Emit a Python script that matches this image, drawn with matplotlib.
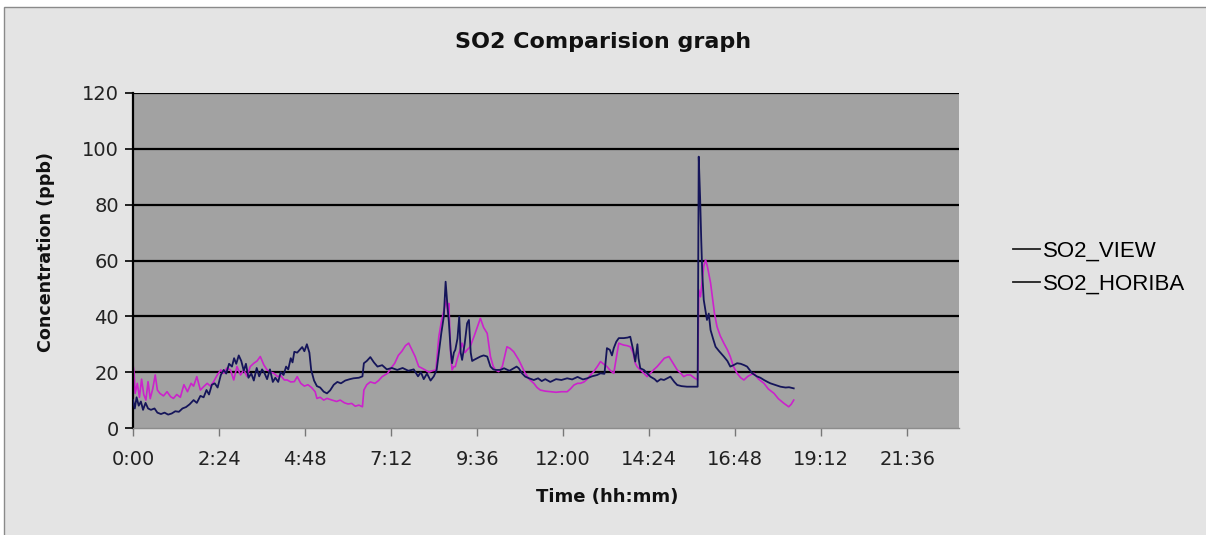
import matplotlib
matplotlib.use('Agg')
import matplotlib.pyplot as plt
from matplotlib.patches import Rectangle
from matplotlib.lines import Line2D

# time in hours, concentration in ppb
view_t = [0.00, 0.05, 0.10, 0.16, 0.22, 0.28, 0.35, 0.42, 0.50, 0.60, 0.68, 0.78, 0.88, 0.98,
          1.08, 1.18, 1.28, 1.38, 1.48, 1.58, 1.69, 1.78, 1.88, 1.97, 2.05, 2.12, 2.20, 2.28,
          2.36, 2.45, 2.53, 2.60, 2.68, 2.76, 2.82, 2.88, 2.95, 3.02, 3.09, 3.15, 3.22, 3.30,
          3.37, 3.45, 3.52, 3.60, 3.67, 3.74, 3.82, 3.90, 3.97, 4.05, 4.12, 4.20, 4.27, 4.33,
          4.40, 4.45, 4.50, 4.58, 4.65, 4.72, 4.78, 4.85, 4.92, 4.97, 5.05, 5.13, 5.22, 5.32,
          5.41, 5.50, 5.60, 5.70, 5.80, 5.92, 6.05, 6.15, 6.30, 6.40, 6.44, 6.52, 6.62, 6.72,
          6.82, 6.95, 7.08, 7.22, 7.37, 7.52, 7.68, 7.83, 7.95, 8.03, 8.11, 8.20, 8.30, 8.39,
          8.47, 8.53, 8.60, 8.67, 8.72, 8.77, 8.81, 8.86, 8.90, 8.95, 8.99, 9.05, 9.10, 9.14,
          9.18, 9.25, 9.32, 9.37, 9.42, 9.46, 9.51, 9.60, 9.69, 9.78, 9.88, 9.97, 10.05, 10.11,
          10.25, 10.35, 10.50, 10.62, 10.70, 10.76, 10.85, 10.94, 11.05, 11.18, 11.30, 11.40,
          11.50, 11.64, 11.80, 11.95, 12.11, 12.25, 12.40, 12.55, 12.67, 12.80, 12.95, 13.04,
          13.15, 13.22, 13.30, 13.36, 13.41, 13.48, 13.55, 13.69, 13.80, 13.87, 13.95, 14.01,
          14.07, 14.10, 14.15, 14.25, 14.34, 14.43, 14.55, 14.62, 14.72, 14.81, 14.90, 14.99,
          15.10, 15.18, 15.30, 15.45, 15.60, 15.75, 15.78, 15.82, 15.85, 15.88, 15.92, 15.97,
          16.01, 16.06, 16.11, 16.18, 16.25, 16.35, 16.48, 16.58, 16.66, 16.75, 16.85, 16.95,
          17.05, 17.13, 17.27, 17.40, 17.50, 17.60, 17.70, 17.78, 17.92, 18.06, 18.20, 18.30,
          18.43]
view_v = [10, 7, 11, 8, 9.5, 6.5, 9, 7, 6.5, 7, 5.5, 5, 5.5, 4.8,
          5.2, 6, 5.8, 7, 7.5, 8.5, 10, 9, 11.5, 11, 13.6, 12, 15.5, 16,
          14.5, 19, 20.8, 19.5, 23, 22, 25, 23, 26, 24, 20.5, 23, 18, 19.5,
          17, 21.5, 18.5, 21, 19.6, 17.5, 21, 16.5, 18, 16.5, 20, 19, 22, 21,
          25, 23.5, 27.3, 27, 28, 29, 27.5, 30, 27, 20.8, 17, 15, 14.5, 13,
          12.4, 13.5, 15.5, 16.5, 16, 17, 17.5, 17.8, 18, 18.5, 23.2, 24, 25.4, 23.5,
          22, 22.5, 21, 21.5, 20.8, 21.5, 20.5, 21, 18.5, 20, 17.5, 19.5, 17, 18.5,
          20.8, 27, 34, 40, 52.4, 44, 38, 28, 23.2, 27, 28, 32, 39.9, 27,
          24.4, 30, 37.5, 38.7, 27, 24, 24.4, 25, 25.6, 26, 25.6, 22, 21, 20.8,
          20.8, 21.4, 20.5, 21.4, 22, 21.4, 19.6, 18.4, 17.8, 17.2, 17.8, 16.8,
          17.5, 16.5, 17.5, 17.2, 17.8, 17.4, 18.3, 17.4, 17.8, 18.5, 19, 19.6,
          19.4, 28.6, 28, 26, 28.6, 30.9, 32.2, 32.2, 32.4, 32.7, 28, 23.8,
          30, 25, 21.4, 20.8, 19.6, 18.4, 17.5, 16.6, 17.5, 17.2, 17.8, 18.4,
          16.5, 15.4, 15, 14.8, 14.8, 14.8, 97.2, 82, 67.4, 55, 45.9, 42,
          38.7, 41, 35.1, 32, 29.1, 27.5, 25.6, 24, 22, 22.5, 23.2, 23,
          22.5, 22, 19.6, 18.5, 18, 17.2, 16.5, 16, 15.4, 14.8, 14.5, 14.6,
          14.2]

horiba_t = [0.00, 0.03, 0.06, 0.12, 0.18, 0.24, 0.30, 0.36, 0.42, 0.48, 0.55, 0.62, 0.68, 0.75,
            0.85, 0.95, 1.05, 1.13, 1.22, 1.32, 1.42, 1.52, 1.62, 1.69, 1.78, 1.88, 1.97, 2.07,
            2.16, 2.25, 2.35, 2.45, 2.53, 2.62, 2.72, 2.81, 2.90, 3.00, 3.09, 3.18, 3.27, 3.37,
            3.46, 3.55, 3.65, 3.74, 3.84, 3.93, 4.03, 4.12, 4.22, 4.30, 4.40, 4.50, 4.58, 4.68,
            4.78, 4.88, 4.98, 5.08, 5.13, 5.22, 5.32, 5.41, 5.55, 5.68, 5.78, 5.90, 6.00, 6.10,
            6.20, 6.30, 6.40, 6.44, 6.52, 6.62, 6.75, 6.85, 6.95, 7.10, 7.20, 7.30, 7.40, 7.50,
            7.60, 7.69, 7.78, 7.87, 7.97, 8.05, 8.15, 8.25, 8.35, 8.45, 8.53, 8.60, 8.67, 8.74,
            8.78, 8.81, 8.86, 8.90, 8.95, 8.99, 9.05, 9.10, 9.18, 9.26, 9.32, 9.40, 9.51, 9.60,
            9.69, 9.78, 9.88, 9.97, 10.05, 10.11, 10.20, 10.30, 10.43, 10.52, 10.62, 10.76, 10.85,
            10.94, 11.05, 11.18, 11.27, 11.36, 11.50, 11.64, 11.80, 11.95, 12.11, 12.20, 12.30,
            12.40, 12.48, 12.58, 12.67, 12.76, 12.85, 12.95, 13.04, 13.12, 13.22, 13.32, 13.41,
            13.48, 13.55, 13.62, 13.69, 13.78, 13.87, 13.95, 14.01, 14.06, 14.15, 14.25, 14.34,
            14.43, 14.52, 14.62, 14.72, 14.82, 14.95, 15.05, 15.18, 15.28, 15.36, 15.45, 15.55,
            15.65, 15.75, 15.78, 15.83, 15.88, 15.92, 15.97, 16.02, 16.06, 16.11, 16.16, 16.22,
            16.29, 16.38, 16.48, 16.58, 16.66, 16.75, 16.85, 16.95, 17.04, 17.15, 17.25, 17.32,
            17.45, 17.60, 17.72, 17.88, 18.00, 18.15, 18.29, 18.36, 18.43]
horiba_v = [22.6, 20, 12.4, 16, 11, 17.5, 12, 10, 16.6, 10.5, 14, 19, 13.6, 12.4,
            11.5, 13, 11.2, 10.6, 12, 11, 15.5, 13, 16, 15, 18.4, 13.6, 14.8, 16,
            15, 16.6, 19, 20.8, 19.6, 21.5, 20.8, 17.2, 22, 19, 20.8, 18.5, 22, 23.2,
            24, 25.6, 22.6, 20.8, 20, 19.6, 18.4, 18.8, 17.2, 17.2, 16.5, 16.6, 18.4, 16,
            15, 15.5, 14.5, 13, 10.6, 11, 10, 10.6, 10, 9.5, 10, 9, 8.6, 8.8,
            7.8, 8.2, 7.6, 13.6, 15.5, 16.5, 16, 17, 18.4, 19.6, 21.5, 23.2, 26, 27.5,
            29.5, 30.4, 28, 25.6, 22, 21.5, 20.8, 20, 20.5, 20.8, 32.7, 38, 42, 46,
            41, 44.6, 27, 20.8, 22, 22, 25, 27, 30.4, 27, 28, 29, 32.7, 36,
            39.3, 36, 33.9, 25.6, 22, 20.8, 20.2, 22, 29.1, 28.5, 27.3, 24.4, 22,
            19.6, 17.5, 16, 14.5, 13.6, 13.2, 13, 12.8, 13, 13, 14, 15.4,
            16, 16, 16.5, 17.5, 19, 20.2, 22, 23.8, 23, 22, 20.5, 19.6,
            25, 30.4, 30, 29.7, 29.5, 29.1, 27, 23.2, 22, 20.8, 19.6, 18.4,
            19.6, 20.8, 22, 23.5, 25, 25.6, 23.5, 20.8, 19.6, 18.4, 19, 19,
            18, 17.2, 49.5, 47, 53, 58, 60.2, 58, 55.4, 52, 47, 41,
            36.3, 33, 30.4, 28, 25.6, 22, 19.6, 18, 17.2, 18.5, 19.2, 19.6,
            17.5, 16, 14, 12.4, 10.5, 8.9, 7.6, 8.5, 10]

xtick_pos = [0, 2.4, 4.8, 7.2, 9.6, 12.0, 14.4, 16.8, 19.2, 21.6]
xtick_labels = ['0:00', '2:24', '4:48', '7:12', '9:36', '12:00', '14:24', '16:48', '19:12', '21:36']
ytick_pos = [0, 20, 40, 60, 80, 100, 120]

W, H = 1206, 535
fig = plt.figure(figsize=(W / 100, H / 100), dpi=100, facecolor='white')

# outer chart frame
frame = Rectangle((4 / W, -0.02), 1.02, (H - 7) / H + 0.02, transform=fig.transFigure,
                  facecolor='#e4e4e4', edgecolor='#8a8a8a', lw=1.0, zorder=-10)
fig.add_artist(frame)

ax = fig.add_axes([133 / W, 1 - 428 / H, (959 - 133) / W, (428 - 93) / H])
ax.set_facecolor('#a2a2a2')

ax.plot(view_t, view_v, color='#15155a', lw=1.3, label='SO2_VIEW', zorder=3)
ax.plot(horiba_t, horiba_v, color='#cc22cc', lw=1.2, label='SO2_HORIBA', zorder=2)

ax.set_xlim(0, 23.04)
ax.set_ylim(0, 120)
ax.set_yticks(ytick_pos)
ax.set_xticks(xtick_pos)
ax.set_xticklabels(xtick_labels)
for y in ytick_pos[1:]:
    ax.axhline(y, color='black', lw=1.6, zorder=1)

ax.spines['right'].set_visible(False)
ax.spines['top'].set_visible(False)
ax.spines['left'].set_color('black')
ax.spines['left'].set_linewidth(1.6)
ax.spines['bottom'].set_color('#8c8c8c')
ax.spines['bottom'].set_linewidth(1.0)
ax.tick_params(axis='y', direction='out', length=6, width=1.2, color='black',
               labelsize=14, pad=4, labelcolor='#222222')
ax.tick_params(axis='x', direction='out', length=6, width=1.0, color='#777777',
               labelsize=14, pad=10, labelcolor='#222222')

fig.text(603 / W, 1 - 42 / H, 'SO2 Comparision graph', ha='center', va='center',
         fontsize=16, fontweight='bold', color='#111111')
fig.text(607 / W, 1 - 497 / H, 'Time (hh:mm)', ha='center', va='center',
         fontsize=13, fontweight='bold', color='#111111')
fig.text(46 / W, 1 - 252 / H, 'Concentration (ppb)', ha='center', va='center',
         rotation=90, fontsize=12.6, fontweight='bold', color='#111111')

handles = [Line2D([], [], color='#222222', lw=1.3), Line2D([], [], color='#222222', lw=1.3)]
fig.legend(handles, ['SO2_VIEW', 'SO2_HORIBA'], loc='center left',
           bbox_to_anchor=(1002 / W, 1 - 268 / H), frameon=False,
           prop={'family': 'Liberation Sans', 'size': 16}, handlelength=1.2,
           handletextpad=0.15, labelspacing=0.55, borderpad=0)

fig.savefig('out.png', dpi=100, facecolor=fig.get_facecolor())
